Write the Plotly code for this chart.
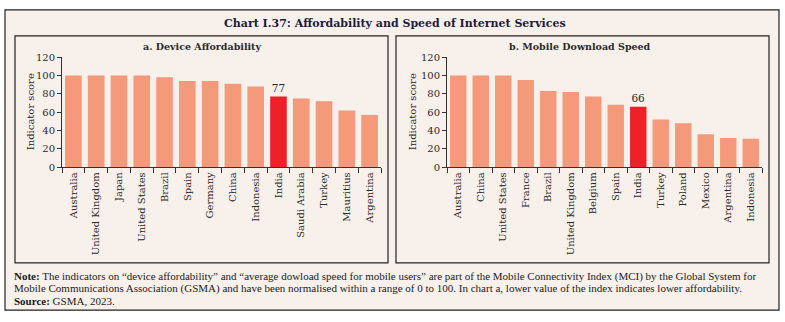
import plotly.graph_objects as go

W, H = 785, 322

# ---- data ----
cats_a = ["Australia", "United Kingdom", "Japan", "United States", "Brazil", "Spain",
          "Germany", "China", "Indonesia", "India", "Saudi Arabia", "Turkey",
          "Mauritius", "Argentina"]
vals_a = [100, 100, 100, 100, 98, 94, 94, 91, 88, 77, 75, 72, 62, 57]

cats_b = ["Australia", "China", "United States", "France", "Brazil", "United Kingdom",
          "Belgium", "Spain", "India", "Turkey", "Poland", "Mexico", "Argentina",
          "Indonesia"]
vals_b = [100, 100, 100, 95, 83, 82, 77, 68, 66, 52, 48, 36, 32, 31]

highlight = "India"
y_ticks = [0, 20, 40, 60, 80, 100, 120]

title_text = "Chart I.37: Affordability and Speed of Internet Services"
sub_a = "a. Device Affordability"
sub_b = "b. Mobile Download Speed"
y_title = "Indicator score"
note_lines = [
    "<b>Note:</b> The indicators on “device affordability” and “average dowload speed for mobile users” are part of the Mobile Connectivity Index (MCI) by the Global System for",
    "Mobile Communications Association (GSMA) and have been normalised within a range of 0 to 100. In chart a, lower value of the index indicates lower affordability.",
    "<b>Source:</b> GSMA, 2023.",
]

# ---- style ----
BG = "#F8F0EB"
BAR = "#F4997A"
HI = "#EE2128"
TXT = "#2a2a2a"
SERIF = "DejaVu Serif"


def px(x):
    return x / W


def py(y):
    return 1 - y / H


def colors(cats):
    return [HI if c == highlight else BAR for c in cats]


def labels(cats, vals):
    return [str(v) if c == highlight else "" for c, v in zip(cats, vals)]


fig = go.Figure()
fig.add_trace(go.Bar(x=cats_a, y=vals_a, marker=dict(color=colors(cats_a), line=dict(width=0)),
                     text=labels(cats_a, vals_a), textposition="outside", cliponaxis=False,
                     textfont=dict(family=SERIF, size=10.5, color=TXT),
                     xaxis="x", yaxis="y", showlegend=False))
fig.add_trace(go.Bar(x=cats_b, y=vals_b, marker=dict(color=colors(cats_b), line=dict(width=0)),
                     text=labels(cats_b, vals_b), textposition="outside", cliponaxis=False,
                     textfont=dict(family=SERIF, size=10.5, color=TXT),
                     xaxis="x2", yaxis="y2", showlegend=False))

ydom = [py(168), py(54)]
xax = dict(type="category", showline=True, linecolor="#333", linewidth=1, ticks="outside",
           tickson="boundaries", ticklen=5, tickcolor="#333", tickangle=-90,
           tickfont=dict(family=SERIF, size=10, color=TXT), showgrid=False, zeroline=False,
           fixedrange=True)
yax = dict(range=[0, 120], tickvals=y_ticks, showline=True, linecolor="#333", linewidth=1,
           ticks="outside", ticklen=4, tickcolor="#333",
           tickfont=dict(family=SERIF, size=10, color=TXT), showgrid=False, zeroline=False)

fig.update_layout(
    width=W, height=H, margin=dict(l=0, r=0, t=0, b=0),
    paper_bgcolor="white", plot_bgcolor=BG,
    bargap=0.27,
    xaxis=dict(xax, domain=[px(62), px(381)], anchor="y"),
    yaxis=dict(yax, domain=ydom, anchor="x"),
    xaxis2=dict(xax, domain=[px(447), px(762)], anchor="y2"),
    yaxis2=dict(yax, domain=ydom, anchor="x2"),
)

shapes = [
    dict(type="rect", xref="paper", yref="paper", x0=px(5), x1=px(779), y0=py(316), y1=py(5),
         fillcolor=BG, line=dict(color="#222", width=1.2), layer="below"),
    dict(type="rect", xref="paper", yref="paper", x0=px(15), x1=px(388), y0=py(267), y1=py(32),
         fillcolor="rgba(0,0,0,0)", line=dict(color="#222", width=1.2), layer="below"),
    dict(type="rect", xref="paper", yref="paper", x0=px(396), x1=px(769), y0=py(267), y1=py(32),
         fillcolor="rgba(0,0,0,0)", line=dict(color="#222", width=1.2), layer="below"),
]
fig.update_layout(shapes=shapes)

ann = [
    dict(text=f"<b>{title_text}</b>", x=px(395), y=py(19), xref="paper", yref="paper",
         showarrow=False, xanchor="center", yanchor="middle",
         font=dict(family=SERIF, size=11, color="#1c1c3a")),
    dict(text=f"<b>{sub_a}</b>", x=px(202), y=py(43), xref="paper", yref="paper",
         showarrow=False, xanchor="center", yanchor="middle",
         font=dict(family=SERIF, size=9.5, color=TXT)),
    dict(text=f"<b>{sub_b}</b>", x=px(580), y=py(43), xref="paper", yref="paper",
         showarrow=False, xanchor="center", yanchor="middle",
         font=dict(family=SERIF, size=9.5, color=TXT)),
    dict(text=y_title, x=px(30), y=py(111), xref="paper", yref="paper", textangle=-90,
         showarrow=False, xanchor="center", yanchor="middle",
         font=dict(family=SERIF, size=10, color=TXT)),
    dict(text=y_title, x=px(412), y=py(111), xref="paper", yref="paper", textangle=-90,
         showarrow=False, xanchor="center", yanchor="middle",
         font=dict(family=SERIF, size=10, color=TXT)),
]
for i, line in enumerate(note_lines):
    ann.append(dict(text=line, x=px(12), y=py(281 + 12.5 * i), xref="paper", yref="paper",
                    showarrow=False, xanchor="left", yanchor="middle",
                    font=dict(family="Liberation Serif", size=11, color="#1a1a1a")))
fig.update_layout(annotations=ann)

fig.write_html("out.html")
